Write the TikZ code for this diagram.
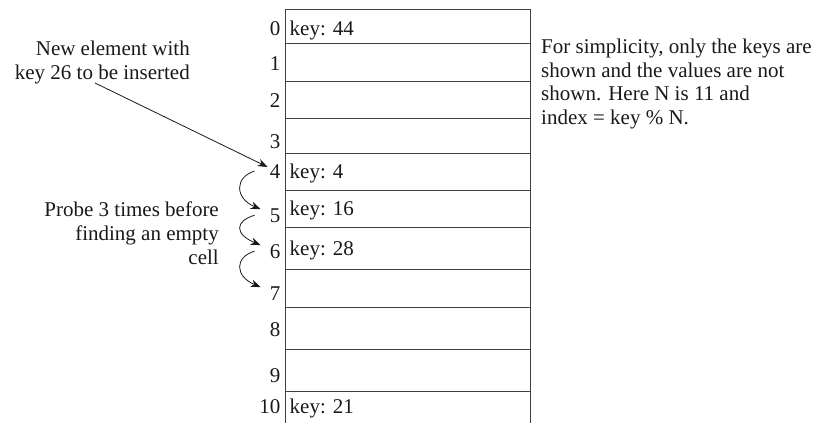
\documentclass[tikz,border=0pt]{standalone}
\usepackage{fontspec}
\setmainfont{Liberation Serif}
\usetikzlibrary{arrows.meta,calc}
\begin{document}
\begin{tikzpicture}[x=1pt,y=-1pt,
  lbl/.style={font=\fontsize{21}{23.8}\selectfont, inner sep=0pt, text=black!90},
  tline/.style={draw=black!75, line width=0.8pt},
  arr/.style={-{Stealth[length=10pt,width=7.5pt]}, line width=0.8pt, draw=black!90}]
\useasboundingbox (0,0) rectangle (816,423);
% table
\draw[tline] (285,423) -- (285,9) -- (530,9) -- (530,423);
\foreach \y in {43,81,118,153,190,227,269,307,349,391}
  \draw[tline] (285,\y) -- (530,\y);
% index labels
\foreach \i/\b in {0/35,1/70,2/107,3/148,4/178,5/222,6/258,7/300,8/336,9/382,10/413}
  \node[lbl, anchor=base east] (i\i) at (280.5,\b) {\i};
% keys
\node[lbl, anchor=base west] (k0) at (289.5,35) {key: 44};
\node[lbl, anchor=base west] (k4) at (289.5,178) {key: 4};
\node[lbl, anchor=base west] (k5) at (289.5,215) {key: 16};
\node[lbl, anchor=base west] (k6) at (289.5,255) {key: 28};
\node[lbl, anchor=base west] (k10) at (289.5,413) {key: 21};
% texts
\node[lbl, anchor=north east, align=right] (newel) at (190,40.5) {New element with\\key 26 to be inserted};
\node[lbl, anchor=north east, align=right] (probe) at (219,201.5) {Probe 3 times before\\finding an empty\\cell};
\node[lbl, anchor=north west, align=left] (note) at (541,38.5) {For simplicity, only the keys are\\shown and the values are not\\shown. Here N is 11 and\\index = key \% N.};
% arrows
\coordinate (a0) at (95,83);
\draw[arr] (a0) -- ($(i4.north west)+(-2,3)$);
\foreach \p/\q in {4/5,5/6,6/7}
  \draw[arr] ($(i\p.west)+(-15,0)$) .. controls +(-20,6) and +(-26,-11) .. ($(i\q.west)+(-9,-6)$);
\end{tikzpicture}
\end{document}
